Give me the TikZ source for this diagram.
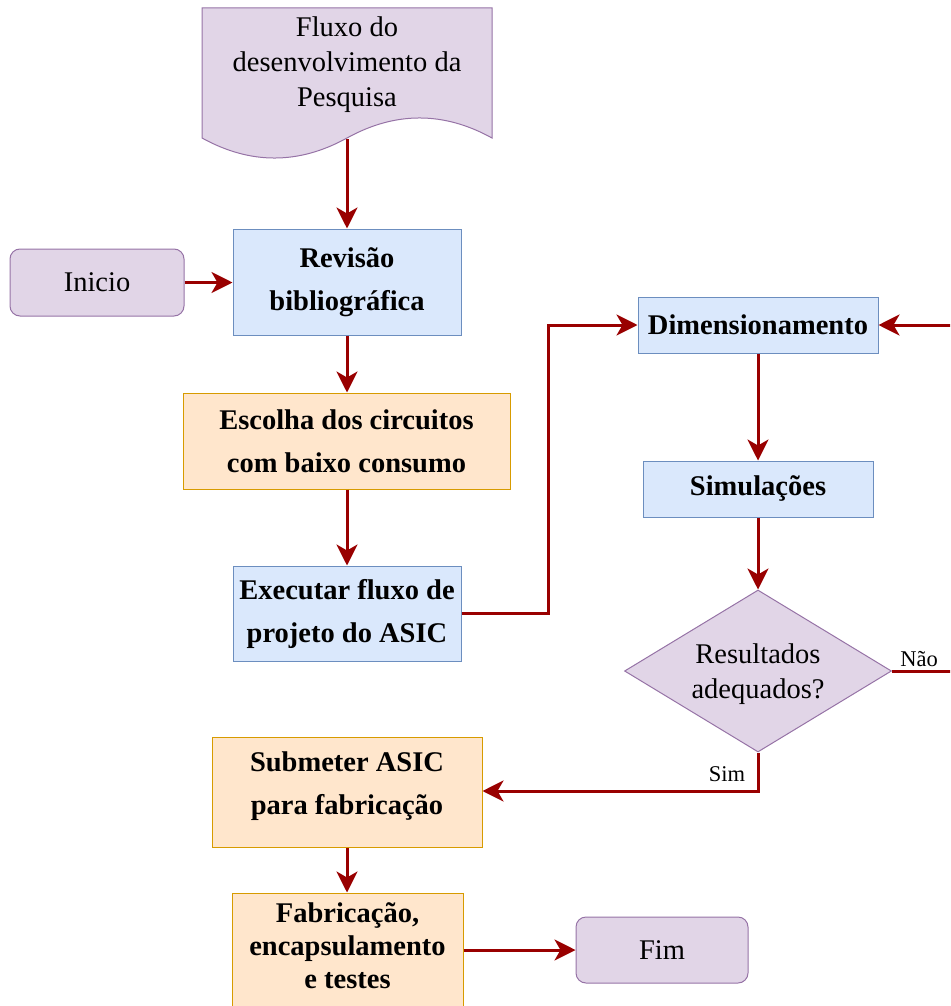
\documentclass[tikz,border=0pt]{standalone}
\usepackage{fontspec}
\setmainfont{Liberation Serif}
\usetikzlibrary{arrows.meta,shapes.geometric}

\definecolor{bluefill}{HTML}{DAE8FC}
\definecolor{bluedraw}{HTML}{6C8EBF}
\definecolor{orangefill}{HTML}{FFE6CC}
\definecolor{orangedraw}{HTML}{D79B00}
\definecolor{purplefill}{HTML}{E1D5E7}
\definecolor{purpledraw}{HTML}{9673A6}
\definecolor{flowred}{HTML}{990000}

\tikzset{
  boxbase/.style={rectangle, line width=1pt, inner sep=0pt, align=center,
    font=\fontsize{28.5}{43}\selectfont\bfseries},
  bluebox/.style={boxbase, fill=bluefill, draw=bluedraw},
  orangebox/.style={boxbase, fill=orangefill, draw=orangedraw},
  terminal/.style={rectangle, rounded corners=10pt, line width=1pt, inner sep=0pt,
    fill=purplefill, draw=purpledraw, font=\fontsize{28.5}{34}\selectfont},
  decision/.style={diamond, line width=1pt, inner sep=0pt, fill=purplefill,
    draw=purpledraw, minimum width=267pt, minimum height=162pt, aspect=1.65},
  plaintext/.style={inner sep=0pt, align=center, font=\fontsize{28.5}{35}\selectfont},
  branchlabel/.style={inner sep=0pt, font=\fontsize{22.5}{26}\selectfont},
  flow/.style={draw=flowred, line width=3pt,
    -{Stealth[length=21pt,width=21pt,inset=6pt]}},
  flowline/.style={draw=flowred, line width=3pt},
}

\begin{document}
\begin{tikzpicture}[x=1pt,y=-1pt]
  \useasboundingbox (0,0) rectangle (950,1006);
  \clip (0,0) rectangle (950,1006);

  % document shape at the top
  \draw[line width=1pt, fill=purplefill, draw=purpledraw]
    (202,8) -- (492,8) -- (492,138)
    .. controls (443.7,111.3) and (395.3,111.3) .. (347,138)
    .. controls (298.7,164.7) and (250.3,164.7) .. (202,138) -- cycle;
  \node[plaintext] (doc) at (347,65) {Fluxo do\\desenvolvimento da\\Pesquisa};
  \coordinate (docb) at (347,139);

  % process steps
  \node[terminal, minimum width=174pt, minimum height=67pt] (ini) at (97,282.5) {Inicio};
  \node[bluebox, minimum width=228pt, minimum height=106pt] (rev) at (347,282) {Revisão\\bibliográfica};
  \node[orangebox, minimum width=327pt, minimum height=96pt] (esc) at (346.5,441) {Escolha dos circuitos\\com baixo consumo};
  \node[bluebox, minimum width=228pt, minimum height=95pt] (exe) at (347,613.5) {Executar fluxo de\\projeto do ASIC};
  \node[bluebox, minimum width=240pt, minimum height=56pt] (dim) at (758,325) {Dimensionamento};
  \node[bluebox, minimum width=230pt, minimum height=56pt] (simu) at (758,489) {Simulações};
  \node[decision] (dec) at (758,671) {};
  \node[plaintext] (dectext) at (758,674) {Resultados\\adequados?};
  \node[orangebox, minimum width=270pt, minimum height=110pt] (sub) at (347,792) {};
  \node[boxbase] (subtext) at (347,786) {Submeter ASIC\\para fabricação};
  \node[orangebox, minimum width=231pt, minimum height=130pt] (fab) at (347.5,958) {};
  \node[boxbase, font=\fontsize{28.5}{33}\selectfont\bfseries] (fabtext) at (347.5,946) {Fabricação,\\encapsulamento\\e testes};
  \node[terminal, minimum width=172pt, minimum height=66pt] (fim) at (662,950) {Fim};

  % loop-back entry and exit points at the right edge
  \coordinate (loopin) at (952,325);
  \coordinate (loopout) at (952,671);

  % connectors
  \draw[flow] (docb) -- (rev.north);
  \draw[flow] (ini.east) -- (rev.west |- ini.east);
  \draw[flow] (rev.south) -- (esc.north -| rev.south);
  \draw[flow] (esc.south -| exe.north) -- (exe.north);
  \draw[flow] (exe.east) -- (548,613.5) |- (dim.west);
  \draw[flow] (loopin) -- (dim.east);
  \draw[flow] (dim.south) -- (simu.north);
  \draw[flow] (simu.south) -- (dec.north);
  \draw[flowline] (dec.east) -- (loopout);
  \draw[flow] (dec.south) |- (sub.east |- 0,791);
  \draw[flow] (sub.south) -- (fab.north -| sub.south);
  \draw[flow] (fab.east |- fim.west) -- (fim.west);

  % branch labels
  \node[branchlabel] (nao) at (919,659) {Não};
  \node[branchlabel] (sim) at (727,774) {Sim};
\end{tikzpicture}
\end{document}
